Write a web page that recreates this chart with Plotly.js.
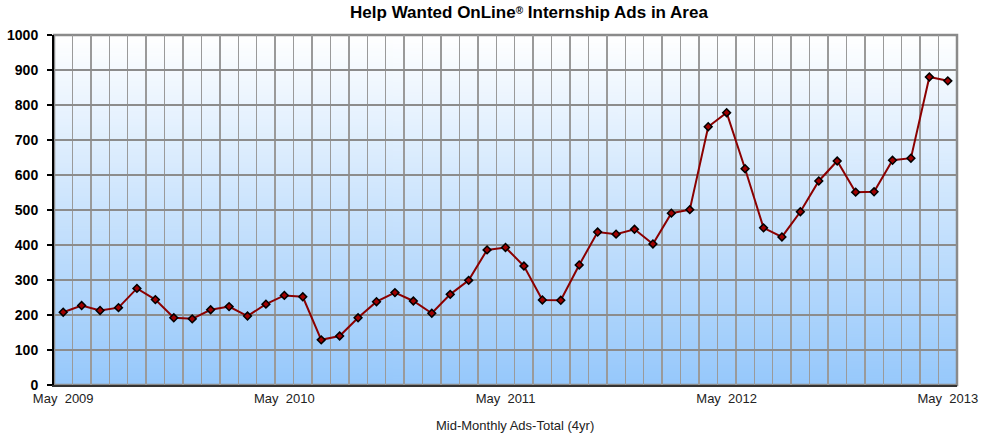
<!DOCTYPE html>
<html>
<head>
<meta charset="utf-8">
<script src="https://cdn.plot.ly/plotly-3.0.1.min.js"></script>
<style>html,body{margin:0;padding:0;background:#fff;}#chart{width:984px;height:436px;}</style>
</head>
<body>
<div id="chart"></div>
<script>
// Monthly index: 0 = May 2009 ... 48 = May 2013
const monthIndex = Array.from({length: 49}, (_, i) => i);
const adsTotal = [
  208, 227, 213, 221, 276, 244, 192, 189, 215, 224, 197, 231,
  256, 252, 129, 140, 192, 238, 264, 240, 205, 259, 299, 386,
  393, 340, 243, 242, 343, 437, 431, 445, 403, 491, 501, 738,
  778, 618, 449, 423, 495, 583, 640, 551, 552, 642, 648, 880,
  869
];
const tickPositions = [0, 12, 24, 36, 48];
const tickLabels = ['May\u00a0 2009', 'May\u00a0 2010', 'May\u00a0 2011', 'May\u00a0 2012', 'May\u00a0 2013'];
const yTicks = [0, 100, 200, 300, 400, 500, 600, 700, 800, 900, 1000];

// gradient background image
const cv = document.createElement('canvas');
cv.width = 4; cv.height = 256;
const ctx = cv.getContext('2d');
const g = ctx.createLinearGradient(0, 0, 0, 256);
g.addColorStop(0, '#ffffff');
g.addColorStop(1, '#96c8fb');
ctx.fillStyle = g;
ctx.fillRect(0, 0, 4, 256);
const bgURL = cv.toDataURL('image/png');

const trace = {
  x: monthIndex,
  y: adsTotal,
  type: 'scatter',
  mode: 'lines+markers',
  line: {color: '#8b0000', width: 2},
  marker: {symbol: 'diamond', size: 6, color: '#a00000', line: {color: '#000000', width: 1.5}},
  hoverinfo: 'skip'
};

const layout = {
  width: 984, height: 436,
  margin: {l: 54, r: 27, t: 35, b: 51},
  paper_bgcolor: '#ffffff',
  plot_bgcolor: 'rgba(0,0,0,0)',
  showlegend: false,
  font: {family: 'Liberation Sans, Arial, sans-serif', color: '#000'},
  title: {
    text: '<b>Help Wanted OnLine<span style="font-size:10px;baseline-shift:40%">®</span> Internship Ads in Area</b>',
    font: {size: 17, color: '#000'},
    xref: 'container', x: 529 / 984, xanchor: 'center',
    yref: 'container', y: 1 - 12 / 436, yanchor: 'middle'
  },
  xaxis: {
    range: [-0.5, 48.5],
    tickmode: 'array', tickvals: tickPositions, ticktext: tickLabels,
    showgrid: false, zeroline: false,
    showline: true, linecolor: '#333', linewidth: 2,
    ticks: '', tickfont: {size: 13, color: '#222'},
    minor: {tickmode: 'linear', tick0: -0.5, dtick: 1, showgrid: true, gridcolor: '#9a9a9a', gridwidth: 1.5, ticks: ''},
    fixedrange: true
  },
  yaxis: {
    range: [0, 1000],
    tickmode: 'array', tickvals: yTicks,
    showgrid: true, gridcolor: '#8c8c8c', gridwidth: 1.5,
    zeroline: false,
    showline: true, linecolor: '#000', linewidth: 2,
    ticks: 'outside', ticklen: 5, tickwidth: 1.5, tickcolor: '#000',
    tickfont: {size: 14, color: '#000', weight: 'bold'},
    ticklabelstandoff: 6,
    fixedrange: true
  },
  images: [{
    source: bgURL, xref: 'paper', yref: 'paper', x: 0, y: 1, sizex: 1, sizey: 1,
    sizing: 'stretch', xanchor: 'left', yanchor: 'top', layer: 'below'
  }],
  shapes: [{
    type: 'rect', xref: 'paper', yref: 'paper', x0: 0, x1: 1, y0: 0, y1: 1,
    line: {color: '#8a8a8a', width: 2.5}, fillcolor: 'rgba(0,0,0,0)', layer: 'below'
  }],
  annotations: [{
    text: 'Mid-Monthly Ads-Total (4yr)', xref: 'paper', yref: 'paper',
    x: (515 - 54) / 903, y: -(425 - 385) / 350, xanchor: 'center', yanchor: 'middle',
    showarrow: false, font: {size: 13, color: '#222'}
  }]
};

Plotly.newPlot('chart', [trace], layout, {displayModeBar: false, staticPlot: true});
</script>
</body>
</html>
